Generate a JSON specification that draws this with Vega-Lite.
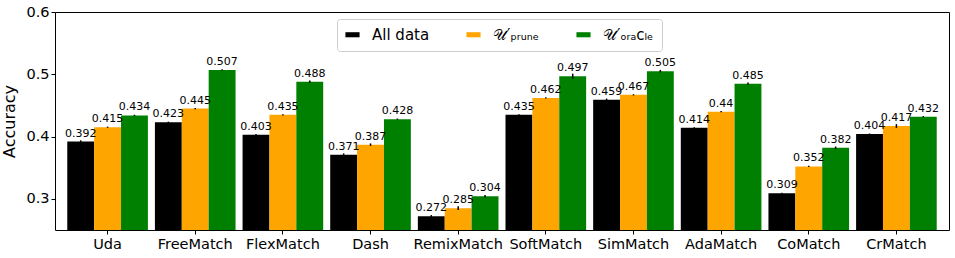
{
  "$schema": "https://vega.github.io/schema/vega-lite/v6.json",
  "autosize": {"type": "none"},
  "width": 894,
  "height": 218,
  "padding": {"left": 55, "top": 12, "right": 6, "bottom": 28},
  "background": "white",
  "config": {
    "font": "DejaVu Sans",
    "view": {"stroke": "black", "strokeWidth": 1},
    "axis": {"grid": false, "domainColor": "black", "tickColor": "black", "labelColor": "black", "titleColor": "black", "labelFont": "DejaVu Sans", "titleFont": "DejaVu Sans"}
  },
  "data": {
    "values": [
      {"method": "Uda", "series": "All data", "value": 0.392, "err": 0.002},
      {"method": "Uda", "series": "U_prune", "value": 0.415, "err": 0.001},
      {"method": "Uda", "series": "U_oracle", "value": 0.434, "err": 0.001},
      {"method": "FreeMatch", "series": "All data", "value": 0.423, "err": 0.001},
      {"method": "FreeMatch", "series": "U_prune", "value": 0.445, "err": 0.001},
      {"method": "FreeMatch", "series": "U_oracle", "value": 0.507, "err": 0.001},
      {"method": "FlexMatch", "series": "All data", "value": 0.403, "err": 0.001},
      {"method": "FlexMatch", "series": "U_prune", "value": 0.435, "err": 0.001},
      {"method": "FlexMatch", "series": "U_oracle", "value": 0.488, "err": 0.002},
      {"method": "Dash", "series": "All data", "value": 0.371, "err": 0.002},
      {"method": "Dash", "series": "U_prune", "value": 0.387, "err": 0.002},
      {"method": "Dash", "series": "U_oracle", "value": 0.428, "err": 0.001},
      {"method": "RemixMatch", "series": "All data", "value": 0.272, "err": 0.002},
      {"method": "RemixMatch", "series": "U_prune", "value": 0.285, "err": 0.003},
      {"method": "RemixMatch", "series": "U_oracle", "value": 0.304, "err": 0.002},
      {"method": "SoftMatch", "series": "All data", "value": 0.435, "err": 0.001},
      {"method": "SoftMatch", "series": "U_prune", "value": 0.462, "err": 0.001},
      {"method": "SoftMatch", "series": "U_oracle", "value": 0.497, "err": 0.004},
      {"method": "SimMatch", "series": "All data", "value": 0.459, "err": 0.002},
      {"method": "SimMatch", "series": "U_prune", "value": 0.467, "err": 0.001},
      {"method": "SimMatch", "series": "U_oracle", "value": 0.505, "err": 0.002},
      {"method": "AdaMatch", "series": "All data", "value": 0.414, "err": 0.001},
      {"method": "AdaMatch", "series": "U_prune", "value": 0.44, "err": 0.001},
      {"method": "AdaMatch", "series": "U_oracle", "value": 0.485, "err": 0.002},
      {"method": "CoMatch", "series": "All data", "value": 0.309, "err": 0.001},
      {"method": "CoMatch", "series": "U_prune", "value": 0.352, "err": 0.001},
      {"method": "CoMatch", "series": "U_oracle", "value": 0.382, "err": 0.002},
      {"method": "CrMatch", "series": "All data", "value": 0.404, "err": 0.001},
      {"method": "CrMatch", "series": "U_prune", "value": 0.417, "err": 0.003},
      {"method": "CrMatch", "series": "U_oracle", "value": 0.432, "err": 0.001}
    ]
  },
  "transform": [
    {"calculate": "datum.value - datum.err", "as": "lo"},
    {"calculate": "datum.value + datum.err", "as": "hi"}
  ],
  "encoding": {
    "x": {
      "field": "method", "type": "nominal", "sort": null,
      "scale": {"paddingInner": 0.08, "paddingOuter": 0.14},
      "axis": {"title": null, "labelAngle": 0, "labelFontSize": 14.5, "tickSize": 4, "labelPadding": 3, "domain": false}
    },
    "xOffset": {
      "field": "series", "type": "nominal",
      "sort": ["All data", "U_prune", "U_oracle"]
    }
  },
  "layer": [
    {
      "mark": {"type": "bar", "clip": true},
      "encoding": {
        "y": {
          "field": "value", "type": "quantitative",
          "scale": {"domain": [0.25, 0.6], "nice": false, "zero": false},
          "axis": {"title": "Accuracy", "titleFontSize": 16, "titleFontWeight": "normal", "labelFontSize": 14.5, "values": [0.3, 0.4, 0.5, 0.6], "format": ".1f", "tickSize": 4, "titlePadding": 8, "domain": false}
        },
        "color": {
          "field": "series", "type": "nominal",
          "sort": ["All data", "U_prune", "U_oracle"],
          "scale": {"domain": ["All data", "U_prune", "U_oracle"], "range": ["#000000", "#FFA500", "#008000"]},
          "legend": {
            "title": null,
            "orient": "none",
            "legendX": 282,
            "legendY": 7,
            "direction": "horizontal",
            "columns": 3,
            "columnPadding": 36,
            "padding": 8,
            "strokeColor": "#cccccc",
            "fillColor": "white",
            "cornerRadius": 3,
            "labelFontSize": 15,
            "labelColor": "black",
            "symbolType": "M-1,-0.36H1V0.36H-1Z",
            "symbolSize": 200,
            "symbolStrokeWidth": 0,
            "labelOffset": 12,
            "labelExpr": "datum.label == 'U_prune' ? '𝒰′ₚᵣᵤₙₑ' : datum.label == 'U_oracle' ? '𝒰′ₒᵣₐᴄₗₑ' : datum.label"
          }
        }
      }
    },
    {
      "mark": {"type": "rule", "color": "black", "strokeWidth": 1.5},
      "encoding": {
        "y": {"field": "lo", "type": "quantitative"},
        "y2": {"field": "hi"}
      }
    },
    {
      "mark": {"type": "text", "baseline": "bottom", "dy": -3, "fontSize": 11, "color": "black"},
      "encoding": {
        "y": {"field": "value", "type": "quantitative"},
        "text": {"field": "value", "type": "nominal"}
      }
    }
  ]
}
